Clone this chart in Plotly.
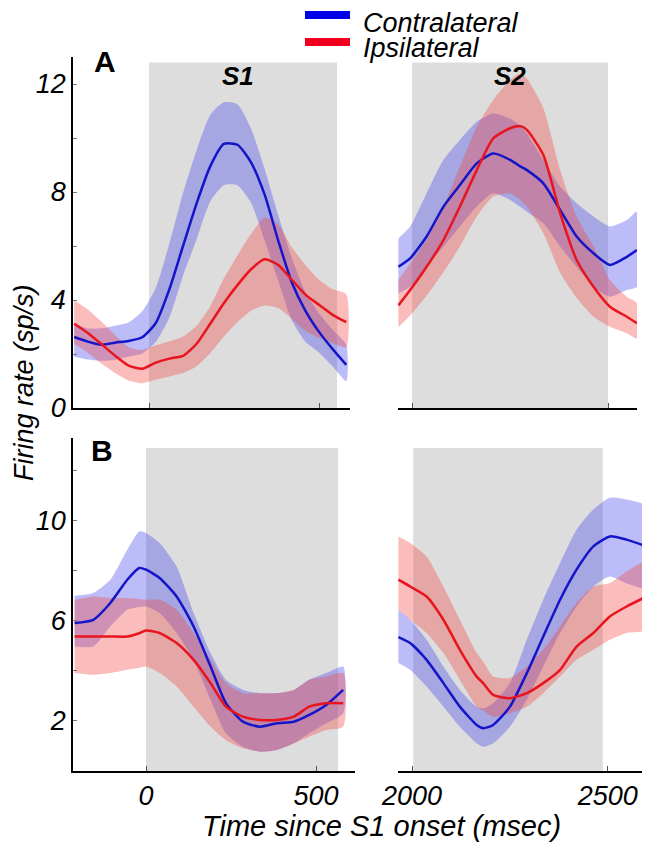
import plotly.graph_objects as go

# ---------------- data ----------------
# Panel A, S1 (time in ms relative to S1 onset)
TL_T = [-220, -180, -140, -100, -60, -20, 20, 60, 100, 140, 180, 220, 260, 300, 340, 380, 420, 460, 500, 540, 580]
TL_CONTRA = [2.63, 2.46, 2.34, 2.42, 2.48, 2.62, 3.15, 4.40, 6.00, 7.58, 8.95, 9.78, 9.75, 9.10, 7.90, 6.20, 4.65, 3.60, 2.82, 2.18, 1.60]
TL_CONTRA_HI = [3.13, 2.95, 2.95, 3.05, 3.17, 3.58, 4.45, 6.10, 7.95, 9.55, 10.85, 11.32, 11.25, 10.35, 8.85, 7.15, 5.55, 4.30, 3.50, 2.90, 2.35]
TL_CONTRA_LO = [1.90, 1.80, 1.75, 1.78, 1.91, 2.01, 2.45, 3.35, 4.90, 6.25, 7.65, 8.25, 8.25, 7.60, 6.20, 4.70, 3.25, 2.45, 2.05, 1.55, 1.00]
TL_IPSI = [3.12, 2.78, 2.37, 1.94, 1.57, 1.45, 1.68, 1.83, 1.93, 2.38, 3.12, 3.88, 4.55, 5.14, 5.51, 5.30, 4.75, 4.20, 3.82, 3.45, 3.18]
TL_IPSI_HI = [3.98, 3.65, 3.20, 2.70, 2.25, 2.15, 2.32, 2.47, 2.65, 3.05, 3.77, 4.80, 5.65, 6.45, 7.05, 6.80, 5.95, 5.30, 4.75, 4.40, 4.22]
TL_IPSI_LO = [2.38, 2.05, 1.65, 1.30, 1.02, 0.92, 1.05, 1.17, 1.30, 1.55, 2.03, 2.65, 3.18, 3.60, 3.80, 3.70, 3.30, 2.85, 2.60, 2.40, 2.25]

# Panel A, S2
TR_T = [1965, 1995, 2037, 2080, 2122, 2165, 2207, 2250, 2276, 2293, 2335, 2378, 2420, 2463, 2505, 2548, 2574]
TR_CONTRA = [5.23, 5.54, 6.35, 7.46, 8.26, 9.06, 9.43, 9.19, 8.95, 8.81, 8.32, 7.33, 6.35, 5.73, 5.30, 5.60, 5.85]
TR_CONTRA_HI = [6.28, 6.72, 7.95, 9.19, 9.93, 10.60, 10.91, 10.72, 10.45, 10.17, 9.19, 8.20, 7.58, 7.09, 6.72, 6.96, 7.27]
TR_CONTRA_LO = [4.25, 4.49, 5.23, 5.98, 6.72, 7.46, 7.95, 7.70, 7.45, 7.27, 6.84, 5.98, 5.23, 4.49, 4.12, 4.37, 4.49]
TR_IPSI = [3.80, 4.37, 5.23, 6.22, 7.46, 8.81, 9.99, 10.36, 10.44, 10.30, 9.37, 7.21, 5.48, 4.49, 3.75, 3.38, 3.14]
TR_IPSI_HI = [4.74, 5.36, 6.22, 7.46, 8.94, 10.42, 11.41, 12.15, 12.39, 12.20, 11.10, 8.81, 7.09, 5.98, 4.74, 4.12, 3.88]
TR_IPSI_LO = [3.00, 3.43, 4.17, 5.03, 5.98, 7.09, 7.83, 7.95, 7.70, 7.46, 6.47, 5.01, 4.07, 3.38, 3.01, 2.77, 2.58]

# Panel B, S1
BL_T = [-210, -155, -105, -55, -20, 0, 40, 90, 140, 190, 235, 285, 335, 385, 435, 480, 530, 580]
BL_CONTRA = [5.91, 6.04, 6.71, 7.64, 8.11, 8.04, 7.71, 6.97, 5.77, 4.17, 2.71, 1.97, 1.77, 1.91, 1.97, 2.24, 2.64, 3.24]
BL_CONTRA_HI = [7.00, 7.11, 7.64, 8.84, 9.57, 9.51, 9.11, 8.17, 6.31, 4.71, 3.64, 3.24, 3.11, 3.11, 3.24, 3.64, 3.91, 4.17]
BL_CONTRA_LO = [4.97, 4.97, 5.77, 6.44, 6.55, 6.57, 6.31, 5.51, 4.44, 2.84, 1.51, 0.97, 0.77, 0.84, 1.11, 1.51, 1.91, 2.31]
BL_IPSI = [5.37, 5.37, 5.37, 5.37, 5.50, 5.61, 5.51, 5.11, 4.44, 3.51, 2.57, 2.17, 2.04, 2.04, 2.17, 2.57, 2.71, 2.71]
BL_IPSI_HI = [6.84, 6.97, 6.91, 6.91, 6.87, 6.84, 6.84, 6.44, 5.51, 4.44, 3.51, 3.11, 3.11, 3.11, 3.24, 3.64, 3.77, 3.91]
BL_IPSI_LO = [3.91, 3.84, 3.91, 4.04, 4.12, 4.17, 3.91, 3.37, 2.57, 1.77, 1.24, 0.91, 0.77, 0.84, 1.11, 1.37, 1.64, 1.77]

# Panel B, S2
BR_T = [1965, 1995, 2037, 2080, 2122, 2165, 2182, 2207, 2250, 2293, 2335, 2378, 2420, 2463, 2505, 2548, 2599]
BR_CONTRA = [5.35, 5.11, 4.44, 3.51, 2.57, 1.84, 1.71, 1.84, 2.57, 3.91, 5.37, 6.84, 8.04, 8.97, 9.37, 9.24, 8.97]
BR_CONTRA_HI = [6.44, 6.04, 5.24, 4.17, 3.24, 2.57, 2.50, 2.71, 3.51, 5.24, 6.84, 8.31, 9.64, 10.44, 10.91, 10.84, 10.57]
BR_CONTRA_LO = [4.31, 4.04, 3.37, 2.57, 1.77, 1.11, 0.97, 1.11, 1.77, 2.84, 4.17, 5.51, 6.57, 7.37, 7.77, 7.50, 7.30]
BR_IPSI = [7.64, 7.37, 6.97, 6.04, 4.84, 3.77, 3.50, 3.04, 2.91, 3.11, 3.51, 4.04, 4.97, 5.51, 6.17, 6.57, 6.97]
BR_IPSI_HI = [9.37, 9.11, 8.57, 7.37, 6.04, 4.71, 4.36, 3.77, 3.71, 4.17, 4.84, 5.77, 6.71, 7.37, 7.51, 7.97, 8.37]
BR_IPSI_LO = [6.44, 6.04, 5.51, 4.71, 3.64, 2.57, 2.41, 2.17, 2.31, 2.57, 3.11, 3.77, 4.44, 4.84, 5.24, 5.51, 5.64]

# stimulus periods (ms)
S1_PERIOD = [0, 553]
S1_PERIOD_B = [0, 565]
S2_PERIOD = [2000, 2500]
S2_PERIOD_B = [2003, 2487]

LEFT_XTICKS = [0, 500]
RIGHT_XTICKS = [2000, 2500]
A_YTICKS = [0, 2, 4, 6, 8, 10, 12]
A_YTEXT = ["0", "", "4", "", "8", "", "12"]
B_YTICKS = [2, 4, 6, 8, 10, 12]
B_YTEXT = ["2", "", "6", "", "10", ""]

SERIES = ["Contralateral", "Ipsilateral"]

# ---------------- style ----------------
W, H = 650, 853
OFF = 8  # page body margin of the browser
FONT = "Liberation Sans, Arial, sans-serif"
BLUE = "#1414c8"
RED = "#e8141e"
BLUE_BAND = "rgba(70,70,235,0.36)"
RED_BAND = "rgba(245,70,70,0.36)"
GRAY = "#dddddd"


def px(x):
    return (x - OFF) / W


def py(y):
    return 1 - (y - OFF) / H


fig = go.Figure()

panels = [
    ("x", "y", TL_T, TL_CONTRA, TL_CONTRA_HI, TL_CONTRA_LO, TL_IPSI, TL_IPSI_HI, TL_IPSI_LO),
    ("x2", "y2", TR_T, TR_CONTRA, TR_CONTRA_HI, TR_CONTRA_LO, TR_IPSI, TR_IPSI_HI, TR_IPSI_LO),
    ("x3", "y3", BL_T, BL_CONTRA, BL_CONTRA_HI, BL_CONTRA_LO, BL_IPSI, BL_IPSI_HI, BL_IPSI_LO),
    ("x4", "y4", BR_T, BR_CONTRA, BR_CONTRA_HI, BR_CONTRA_LO, BR_IPSI, BR_IPSI_HI, BR_IPSI_LO),
]

for xa, ya, t, cm, ch, cl, im, ih, il in panels:
    for hi, lo, col in [(ch, cl, BLUE_BAND), (ih, il, RED_BAND)]:
        fig.add_trace(go.Scatter(
            x=list(t) + list(t)[::-1], y=list(hi) + list(lo)[::-1],
            fill="toself", fillcolor=col, line=dict(width=0, shape="spline", smoothing=0.6),
            mode="lines", hoverinfo="skip", showlegend=False, xaxis=xa, yaxis=ya))
    for m, col, name in [(cm, BLUE, SERIES[0]), (im, RED, SERIES[1])]:
        fig.add_trace(go.Scatter(
            x=t, y=m, mode="lines", name=name,
            line=dict(color=col, width=2.5, shape="spline", smoothing=0.6),
            showlegend=False, xaxis=xa, yaxis=ya))

# gray stimulus rectangles
for xref, yref, per, ytop in [("x", "y", S1_PERIOD, 12.8), ("x2", "y2", S2_PERIOD, 12.8),
                              ("x3", "y3", S1_PERIOD_B, 12.9), ("x4", "y4", S2_PERIOD_B, 12.9)]:
    fig.add_shape(type="rect", xref=xref, yref=yref, x0=per[0], x1=per[1], y0=0, y1=ytop,
                  fillcolor=GRAY, line=dict(width=0), layer="below")

tickfont = dict(family=FONT, size=27, color="black", style="italic")

common_x = dict(showline=True, linecolor="black", linewidth=1.5, ticks="inside", ticklen=5,
                tickcolor="#555555", showgrid=False, zeroline=False, tickfont=tickfont,
                automargin=False)
common_y = dict(showgrid=False, zeroline=False, automargin=False)

top_dom = [py(408), py(57)]
bot_dom = [py(771), py(438)]

fig.update_layout(
    width=W, height=H, margin=dict(l=0, r=0, t=0, b=0, autoexpand=False),
    paper_bgcolor="white", plot_bgcolor="rgba(0,0,0,0)",
    showlegend=False,
    xaxis=dict(domain=[px(73), px(350)], range=[-223.5, 591], anchor="y",
               tickvals=LEFT_XTICKS, showticklabels=False, **common_x),
    yaxis=dict(domain=top_dom, range=[0, 13], anchor="x", showline=True, linecolor="black",
               linewidth=1.5, ticks="inside", ticklen=4, tickcolor="#777777",
               tickvals=A_YTICKS, ticktext=A_YTEXT, tickfont=tickfont, **common_y),
    xaxis2=dict(domain=[px(398), px(637)], range=[1964, 2574], anchor="y2",
                tickvals=RIGHT_XTICKS, showticklabels=False, **common_x),
    yaxis2=dict(domain=top_dom, range=[0, 13], anchor="x2", showline=False,
                showticklabels=False, ticks="", **common_y),
    xaxis3=dict(domain=[px(73), px(355)], range=[-214.7, 614.7], anchor="y3",
                tickvals=LEFT_XTICKS, **common_x),
    yaxis3=dict(domain=bot_dom, range=[0, 13.3], anchor="x3", showline=True, linecolor="black",
                linewidth=1.5, ticks="inside", ticklen=4, tickcolor="#777777",
                tickvals=B_YTICKS, ticktext=B_YTEXT, tickfont=tickfont, **common_y),
    xaxis4=dict(domain=[px(398), px(647)], range=[1964, 2600], anchor="y4",
                tickvals=RIGHT_XTICKS, **common_x),
    yaxis4=dict(domain=bot_dom, range=[0, 13.3], anchor="x4", showline=False,
                showticklabels=False, ticks="", **common_y),
)

ann_font = dict(family=FONT, size=29, color="black", style="italic")
annotations = [
    dict(text="Time since S1 onset (msec)", x=px(381), y=py(826), xref="paper", yref="paper",
         xanchor="center", yanchor="middle", showarrow=False, font=ann_font),
    dict(text="Firing rate (sp/s)", x=px(24), y=py(383), xref="paper", yref="paper",
         xanchor="center", yanchor="middle", showarrow=False, textangle=-90,
         font=dict(family=FONT, size=27, color="black", style="italic")),
    dict(text="<b>A</b>", x=px(105), y=py(61), xref="paper", yref="paper", xanchor="center",
         yanchor="middle", showarrow=False, font=dict(family=FONT, size=30, color="black")),
    dict(text="<b>B</b>", x=px(102), y=py(450), xref="paper", yref="paper", xanchor="center",
         yanchor="middle", showarrow=False, font=dict(family=FONT, size=30, color="black")),
    dict(text="<b>S1</b>", x=px(238), y=py(76), xref="paper", yref="paper", xanchor="center",
         yanchor="middle", showarrow=False,
         font=dict(family=FONT, size=26, color="black", style="italic")),
    dict(text="<b>S2</b>", x=px(510), y=py(76), xref="paper", yref="paper", xanchor="center",
         yanchor="middle", showarrow=False,
         font=dict(family=FONT, size=26, color="black", style="italic")),
]
# legend (swatch + label)
leg_font = dict(family=FONT, size=27, color="black", style="italic")
for name, col, ys, yt in [(SERIES[0], "#0000e6", 15, 23), (SERIES[1], "#f0001e", 42, 48)]:
    fig.add_shape(type="line", xref="paper", yref="paper", x0=px(305), x1=px(350),
                  y0=py(ys), y1=py(ys), line=dict(color=col, width=8))
    annotations.append(dict(text=name, x=px(361), y=py(yt), xref="paper", yref="paper",
                            xanchor="left", yanchor="middle", showarrow=False, font=leg_font))

fig.update_layout(annotations=annotations)

fig.write_html("out.html")
